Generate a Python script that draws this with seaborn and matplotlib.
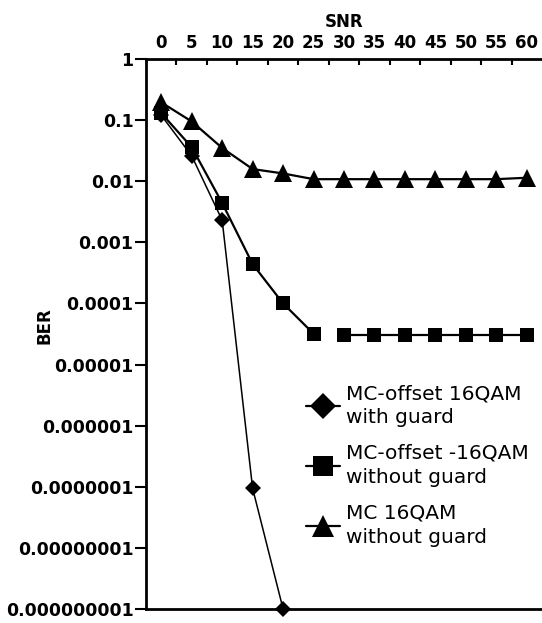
import numpy as np
import pandas as pd
import matplotlib
matplotlib.use("Agg")
import matplotlib.pyplot as plt
from matplotlib.lines import Line2D
from matplotlib.ticker import FixedLocator, NullLocator
import seaborn as sns

# ---- data ----
snr = [0, 5, 10, 15, 20, 25, 30, 35, 40, 45, 50, 55, 60]
snr_guard = [0, 5, 10, 15, 20]
ber_offset_guard = [0.12, 0.026, 0.0023, 9.4e-8, 1e-9]
ber_offset_noguard = [0.13, 0.036, 0.0044, 0.00044, 0.0001, 3.2e-5,
                      3e-5, 3e-5, 3e-5, 3e-5, 3e-5, 3e-5, 3e-5]
noguard_segment = [0, 0, 0, 0, 0, 0, 1, 1, 1, 1, 1, 1, 1]
ber_mc_noguard = [0.195, 0.095, 0.035, 0.0158, 0.0134, 0.0108,
                  0.0108, 0.0108, 0.0108, 0.0108, 0.0108, 0.0108, 0.0114]
labels = ["MC-offset 16QAM\nwith guard",
          "MC-offset -16QAM\nwithout guard",
          "MC 16QAM\nwithout guard"]
ytick_vals = [1, 0.1, 0.01, 0.001, 0.0001, 0.00001, 0.000001,
              0.0000001, 0.00000001, 0.000000001]
ytick_labels = ["1", "0.1", "0.01", "0.001", "0.0001", "0.00001", "0.000001",
                "0.0000001", "0.00000001", "0.000000001"]

sns.set_style("white")
plt.rcParams["font.family"] = ["DejaVu Sans"]
plt.rcParams["text.color"] = "black"
plt.rcParams["axes.labelcolor"] = "black"
plt.rcParams["xtick.color"] = "black"
plt.rcParams["ytick.color"] = "black"

fig = plt.figure(figsize=(5.42, 6.23), dpi=100)
ax = fig.add_axes([0.2694, 0.0225, 0.7306, 0.8828])

df_g = pd.DataFrame({"snr": snr_guard, "ber": ber_offset_guard})
df_s = pd.DataFrame({"snr": snr, "ber": ber_offset_noguard, "seg": noguard_segment})
df_t = pd.DataFrame({"snr": snr, "ber": ber_mc_noguard})

sns.lineplot(data=df_g, x="snr", y="ber", ax=ax, color="black", lw=1.1,
             marker="D", markersize=8.5, markeredgewidth=0, clip_on=False)
sns.lineplot(data=df_s, x="snr", y="ber", units="seg", estimator=None, ax=ax,
             color="black", lw=1.6, marker="s", markersize=9.5,
             markeredgewidth=0, clip_on=False)
sns.lineplot(data=df_t, x="snr", y="ber", ax=ax, color="black", lw=1.6,
             marker="^", markersize=12.5, markeredgewidth=0, clip_on=False)

ax.set_yscale("log")
ax.set_ylim(1e-9, 1)
ax.set_xlim(-2.5, 62.5)
ax.yaxis.set_major_locator(FixedLocator(ytick_vals))
ax.set_yticklabels(ytick_labels)
ax.yaxis.set_minor_locator(NullLocator())

ax.xaxis.tick_top()
ax.xaxis.set_label_position("top")
ax.set_xticks(snr)
ax.set_xticklabels([str(v) for v in snr])
ax.set_xticks([v + 2.5 for v in snr[:-1]], minor=True)
ax.tick_params(axis="x", which="major", length=0, pad=5,
               labelsize=12)
ax.tick_params(axis="x", which="minor", direction="in", length=4, width=1.5,
               top=True, bottom=False)
ax.tick_params(axis="y", which="major", direction="out", length=8, width=1.5,
               left=True, pad=1, labelsize=12.5)
for lab in ax.get_xticklabels() + ax.get_yticklabels():
    lab.set_fontweight("bold")

ax.set_xlabel("SNR", fontsize=12, fontweight="bold", labelpad=5)
ax.set_ylabel("BER", fontsize=12, fontweight="bold")
ax.yaxis.set_label_coords((54 - 146) / 395.9, (609 - 326) / 550.0)

for side in ["left", "top", "bottom"]:
    ax.spines[side].set_visible(True)
    ax.spines[side].set_color("black")
    ax.spines[side].set_linewidth(2)
ax.spines["right"].set_visible(False)
ax.grid(False)

handles = [
    Line2D([], [], color="black", lw=1.6, marker="D", markersize=13, markeredgewidth=0),
    Line2D([], [], color="black", lw=1.6, marker="s", markersize=15, markeredgewidth=0),
    Line2D([], [], color="black", lw=1.6, marker="^", markersize=16, markeredgewidth=0),
]
leg = fig.legend(handles, labels, loc="upper left",
                 bbox_to_anchor=(306 / 542, 1 - 384 / 623),
                 frameon=False, fontsize=14.5, handlelength=1.7,
                 handletextpad=0.3, labelspacing=0.82, borderpad=0,
                 borderaxespad=0)
for t in leg.get_texts():
    t.set_linespacing(1.35)
    t.set_color("black")

fig.savefig("out.png", dpi=100)
